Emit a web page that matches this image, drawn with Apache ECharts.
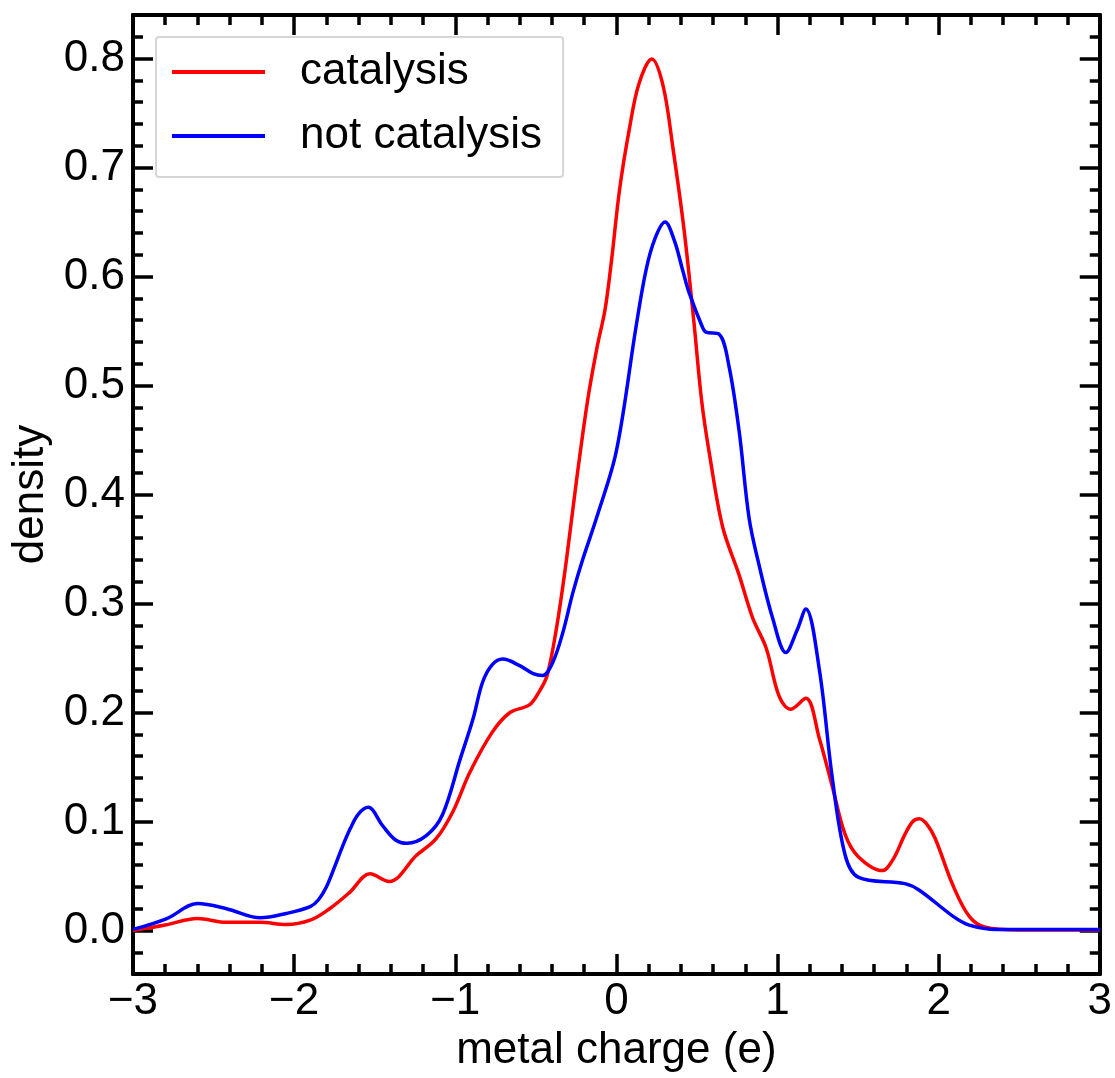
<!DOCTYPE html>
<html>
<head>
<meta charset="utf-8">
<title>metal charge density</title>
<script src="https://cdn.jsdelivr.net/npm/echarts@6/dist/echarts.min.js"></script>
<style>
  html, body { margin: 0; padding: 0; background: #ffffff; }
  #chart { width: 1115px; height: 1078px; }
</style>
</head>
<body>
<div id="chart"></div>
<script>
// Kernel density estimates of the metal charge, two groups of sites.
const seriesNames = ['catalysis', 'not catalysis'];

const catalysisX = [-3.0, -2.8, -2.6, -2.42, -2.21, -2.05, -1.9, -1.78, -1.655, -1.53, -1.41, -1.24, -1.12, -1.015,
  -0.91, -0.77, -0.66, -0.54, -0.48, -0.43, -0.37, -0.31, -0.25, -0.18, -0.12, -0.07, -0.03, 0.02, 0.08, 0.14,
  0.22, 0.29, 0.35, 0.42, 0.48, 0.53, 0.58, 0.66, 0.76, 0.845, 0.93, 1.01, 1.08, 1.176, 1.26, 1.34, 1.42, 1.5,
  1.65, 1.72, 1.79, 1.84, 1.88, 1.93, 1.98, 2.09, 2.19, 2.29, 2.5, 3.0];
const catalysisY = [0.0, 0.005, 0.011, 0.0075, 0.0075, 0.0055, 0.0095, 0.020, 0.035, 0.052, 0.045, 0.069, 0.084, 0.109,
  0.145, 0.182, 0.200, 0.207, 0.219, 0.234, 0.279, 0.34, 0.41, 0.485, 0.535, 0.57, 0.615, 0.68, 0.735, 0.777,
  0.7997, 0.775, 0.719, 0.643, 0.56, 0.485, 0.435, 0.370, 0.327, 0.287, 0.259, 0.215, 0.203, 0.213, 0.176, 0.132, 0.088,
  0.068, 0.055, 0.066, 0.088, 0.100, 0.1025, 0.097, 0.084, 0.041, 0.013, 0.003, 0.0005, 0.0005];

const notCatalysisX = [-3.0, -2.79, -2.6, -2.42, -2.21, -2.05, -1.9, -1.85, -1.8, -1.75, -1.7, -1.65, -1.6, -1.54,
  -1.45, -1.37, -1.30, -1.18, -1.08, -0.97, -0.89, -0.83, -0.77, -0.705, -0.60, -0.52, -0.457, -0.395, -0.333,
  -0.27, -0.21, -0.12, 0.0, 0.122, 0.184, 0.24, 0.302, 0.36, 0.411, 0.452, 0.533, 0.556, 0.638, 0.70, 0.762,
  0.824, 0.886, 0.969, 1.052, 1.12, 1.176, 1.26, 1.34, 1.42, 1.5, 1.79, 1.88, 2.09, 2.19, 2.36, 3.0];
const notCatalysisY = [0.001, 0.011, 0.0247, 0.020, 0.0116, 0.0156, 0.022, 0.028, 0.040, 0.058, 0.077, 0.094, 0.107, 0.113,
  0.096, 0.083, 0.080, 0.087, 0.106, 0.157, 0.194, 0.228, 0.244, 0.249, 0.243, 0.236, 0.234, 0.246, 0.273,
  0.31, 0.34, 0.38, 0.44, 0.554, 0.606, 0.635, 0.650, 0.633, 0.606, 0.585, 0.554, 0.549, 0.547, 0.517, 0.458,
  0.378, 0.335, 0.287, 0.255, 0.275, 0.295, 0.239, 0.14, 0.069, 0.049, 0.043, 0.037, 0.013, 0.005, 0.001, 0.001];

// Axis ticks
const xMin = -3, xMax = 3, xStep = 1;
const yMin = -0.04, yMax = 0.84;
const yMajorTicks = [0.0, 0.1, 0.2, 0.3, 0.4, 0.5, 0.6, 0.7, 0.8];
const yMinorTicks = [-0.02, 0.02, 0.04, 0.06, 0.08, 0.12, 0.14, 0.16, 0.18, 0.22, 0.24, 0.26, 0.28,
  0.32, 0.34, 0.36, 0.38, 0.42, 0.44, 0.46, 0.48, 0.52, 0.54, 0.56, 0.58, 0.62, 0.64, 0.66, 0.68,
  0.72, 0.74, 0.76, 0.78, 0.82];

const FONT = '"Liberation Sans", Arial, Helvetica, sans-serif';
const INK = '#000000';
const frame = { show: true, onZero: false, lineStyle: { color: INK, width: 4 } };

const pairs = (xs, ys) => xs.map((x, i) => [x, ys[i]]);

function xAxisDef(position, withLabels) {
  return {
    type: 'value', position: position, min: xMin, max: xMax, interval: xStep,
    axisLine: frame,
    axisTick: { show: true, inside: true, length: 20, lineStyle: { color: INK, width: 3.5 } },
    minorTick: { show: true, splitNumber: 5, length: 10, lineStyle: { color: INK, width: 3.5 } },
    splitLine: { show: false }, minorSplitLine: { show: false },
    axisLabel: {
      show: withLabels, color: INK, fontFamily: FONT, fontSize: 44, margin: 6,
      formatter: v => String(v).replace('-', '\u2212')
    },
    name: withLabels ? 'metal charge (e)' : '',
    nameLocation: 'middle', nameGap: 46,
    nameTextStyle: { color: INK, fontFamily: FONT, fontSize: 44 }
  };
}

function yAxisDef(position, ticks, tickLen, withLabels) {
  return {
    type: 'value', position: position, min: yMin, max: yMax,
    axisLine: frame,
    axisTick: { show: true, inside: true, length: tickLen, customValues: ticks, lineStyle: { color: INK, width: 3.5 } },
    splitLine: { show: false },
    axisLabel: {
      show: withLabels, color: INK, fontFamily: FONT, fontSize: 44, margin: 8,
      customValues: yMajorTicks,
      formatter: v => v.toFixed(1)
    },
    name: withLabels ? 'density' : '',
    nameLocation: 'middle', nameGap: 80,
    nameTextStyle: { color: INK, fontFamily: FONT, fontSize: 44 }
  };
}

const chart = echarts.init(document.getElementById('chart'), null, { renderer: 'canvas' });
chart.setOption({
  backgroundColor: '#ffffff',
  animation: false,
  grid: { left: 133, right: 14, top: 15, bottom: 101, containLabel: false },
  legend: {
    orient: 'vertical', left: 156, top: 37,
    data: seriesNames,
    icon: 'rect', itemWidth: 93, itemHeight: 4, itemGap: 20,
    padding: [13, 21, 19, 16],
    backgroundColor: '#ffffff', borderColor: '#d6d6d6', borderWidth: 2, borderRadius: 3,
    textStyle: { color: INK, fontFamily: FONT, fontSize: 44, padding: [0, 0, 0, 30] }
  },
  xAxis: [xAxisDef('bottom', true), xAxisDef('top', false)],
  yAxis: [
    yAxisDef('left', yMajorTicks, 20, true),
    yAxisDef('right', yMajorTicks, 20, false),
    yAxisDef('left', yMinorTicks, 10, false),
    yAxisDef('right', yMinorTicks, 10, false)
  ],
  series: [
    {
      name: seriesNames[0], type: 'line', data: pairs(catalysisX, catalysisY),
      smooth: 0.35, symbol: 'none', lineStyle: { color: '#ff0000', width: 3.5 }, itemStyle: { color: '#ff0000' },
      xAxisIndex: 0, yAxisIndex: 0, z: 3
    },
    {
      name: seriesNames[1], type: 'line', data: pairs(notCatalysisX, notCatalysisY),
      smooth: 0.35, symbol: 'none', lineStyle: { color: '#0000ff', width: 3.5 }, itemStyle: { color: '#0000ff' },
      xAxisIndex: 0, yAxisIndex: 0, z: 4
    }
  ]
});
</script>
</body>
</html>
